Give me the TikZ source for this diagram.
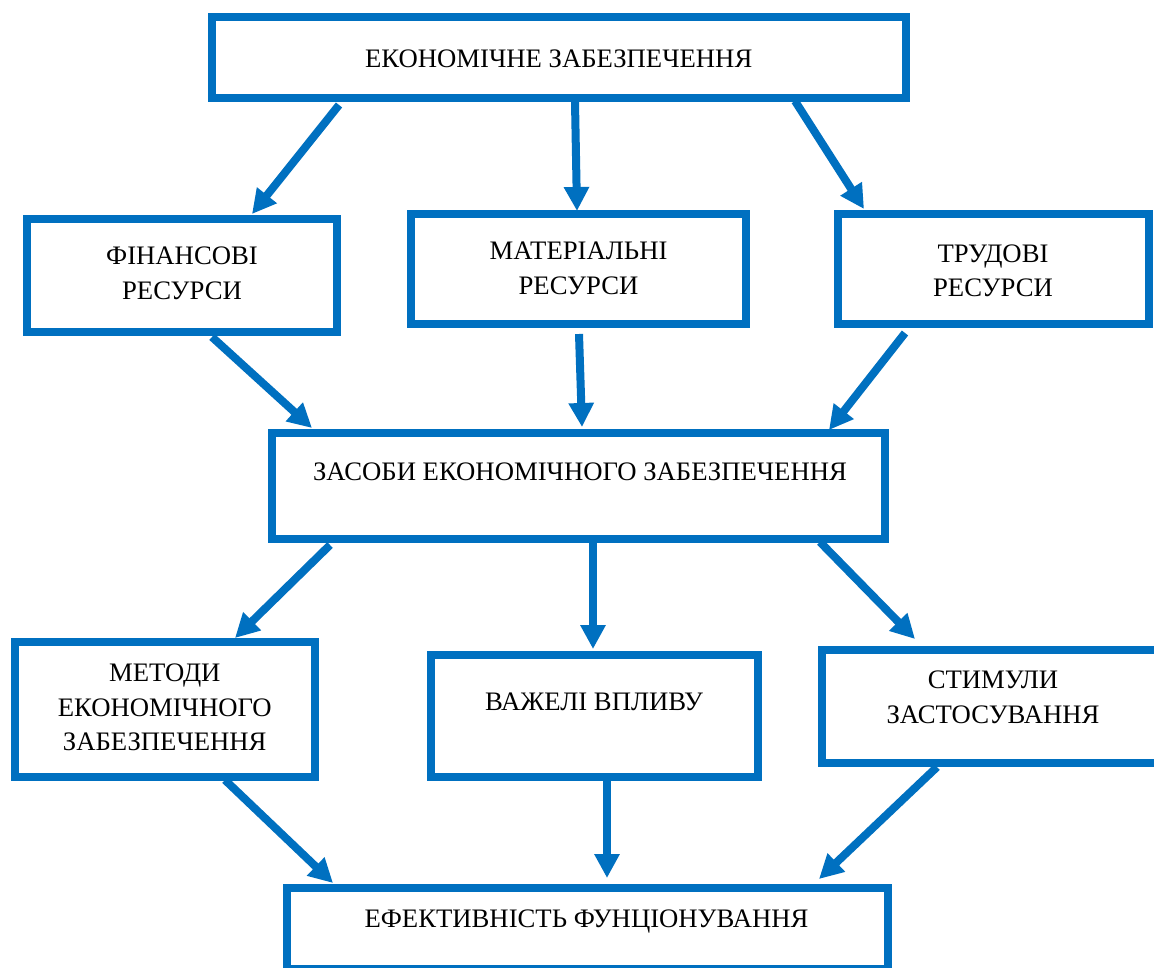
\documentclass[tikz,border=0pt]{standalone}
\usepackage{fontspec}
\setmainfont{Liberation Serif}
\usetikzlibrary{arrows.meta,calc}
\definecolor{bblue}{RGB}{0,112,192}
\begin{document}
\begin{tikzpicture}[x=1pt,y=-1pt,
  box/.style={draw=bblue,line width=8pt,rectangle,inner sep=0pt,outer sep=0pt,fill=none},
  txt/.style={anchor=base,inner sep=0pt,font=\fontsize{26.7pt}{34pt}\selectfont},
  conn/.style={draw=bblue,line width=8pt,-{Triangle[width=24pt,length=24pt]}}]
\useasboundingbox (0,0) rectangle (1154,968);
\clip (0,0) rectangle (1154,968);
\fill[white] (0,0) rectangle (1154,968);
% boxes
\node[box,minimum width=694.5pt,minimum height=81pt] (b1) at (558.75,57.5) {};
\node[box,minimum width=310pt,minimum height=113pt] (b2) at (182,275.5) {};
\node[box,minimum width=335pt,minimum height=110pt] (b3) at (578.5,269) {};
\node[box,minimum width=311pt,minimum height=109.5pt] (b4) at (993,269.25) {};
\node[box,minimum width=613pt,minimum height=106pt] (b5) at (578.5,486) {};
\node[box,minimum width=299.5pt,minimum height=135pt] (b6) at (164.75,709.5) {};
\node[box,minimum width=327pt,minimum height=122pt] (b7) at (594.5,716) {};
\node[box,minimum width=342pt,minimum height=113pt] (b8) at (993,706.5) {};
\node[box,minimum width=601pt,minimum height=81pt] (b9) at (587.5,928.5) {};
% texts
\node[txt] (t1) at (558.75,68) {ЕКОНОМІЧНЕ ЗАБЕЗПЕЧЕННЯ};
\node[txt] (t2a) at (182,265) {ФІНАНСОВІ};
\node[txt] (t2b) at (182,300) {РЕСУРСИ};
\node[txt] (t3a) at (578.5,260) {МАТЕРІАЛЬНІ};
\node[txt] (t3b) at (578.5,295) {РЕСУРСИ};
\node[txt] (t4a) at (993,263) {ТРУДОВІ};
\node[txt] (t4b) at (993,297) {РЕСУРСИ};
\node[txt] (t5) at (580,480) {ЗАСОБИ ЕКОНОМІЧНОГО ЗАБЕЗПЕЧЕННЯ};
\node[txt] (t6a) at (164.75,681) {МЕТОДИ};
\node[txt] (t6b) at (164.75,716) {ЕКОНОМІЧНОГО};
\node[txt] (t6c) at (164.75,750) {ЗАБЕЗПЕЧЕННЯ};
\node[txt] (t7) at (594,710) {ВАЖЕЛІ ВПЛИВУ};
\node[txt] (t8a) at (993,688) {СТИМУЛИ};
\node[txt] (t8b) at (993,723) {ЗАСТОСУВАННЯ};
\node[txt] (t9) at (586.5,927) {ЕФЕКТИВНІСТЬ ФУНЦІОНУВАННЯ};
% connectors
\draw[conn] ($(b1.south west)+(127.5,7)$) -- ($(b2.north west)+(225,-5)$);
\draw[conn] ($(b1.south west)+(363.5,4)$) -- ($(b3.north west)+(166,-3)$);
\draw[conn] ($(b1.south west)+(583.5,3)$) -- ($(b4.north west)+(26.5,-5.5)$);
\draw[conn] ($(b2.south west)+(185,5)$) -- ($(b5.north west)+(40,-5)$);
\draw[conn] ($(b3.south west)+(168,10)$) -- ($(b5.north west)+(310,-6)$);
\draw[conn] ($(b4.south west)+(67.5,9)$) -- ($(b5.north west)+(557,-3)$);
\draw[conn] ($(b5.south west)+(58,6)$) -- ($(b6.north west)+(220,-4)$);
\draw[conn] ($(b5.south west)+(321,4)$) -- ($(b7.north west)+(162,-6)$);
\draw[conn] ($(b5.south west)+(548,3)$) -- ($(b8.north west)+(93,-11)$);
\draw[conn] ($(b6.south west)+(210,3)$) -- ($(b9.north west)+(46,-5)$);
\draw[conn] ($(b7.south west)+(176,4)$) -- ($(b9.north west)+(320,-10)$);
\draw[conn] ($(b8.south west)+(115,4)$) -- ($(b9.north west)+(532,-9)$);
\end{tikzpicture}
\end{document}
